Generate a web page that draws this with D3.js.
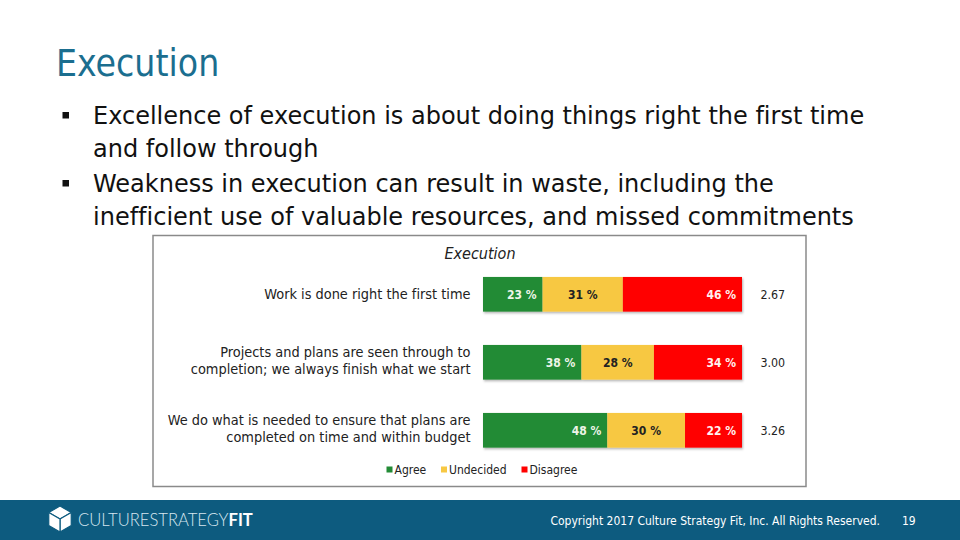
<!DOCTYPE html>
<html>
<head>
<meta charset="utf-8">
<script src="https://cdn.jsdelivr.net/npm/d3@7"></script>
<style>
html,body{margin:0;padding:0;background:#fff;}
svg{display:block;}
text{font-variant-ligatures:none;font-feature-settings:"liga" 0, "clig" 0;}
</style>
</head>
<body>
<svg id="c" width="960" height="540"></svg>
<script>
// ---------- data ----------
const slideTitle = "Execution";
const bullets = [
  ["Excellence of execution is about doing things right the first time", "and follow through"],
  ["Weakness in execution can result in waste, including the", "inefficient use of valuable resources, and missed commitments"]
];
const chartTitle = "Execution";
const categories = [
  "Work is done right the first time",
  "Projects and plans are seen through to completion; we always finish what we start",
  "We do what is needed to ensure that plans are completed on time and within budget"
];
const categoryLines = [
  ["Work is done right the first time"],
  ["Projects and plans are seen through to", "completion; we always finish what we start"],
  ["We do what is needed to ensure that plans are", "completed on time and within budget"]
];
const seriesNames = ["Agree", "Undecided", "Disagree"];
const agree = [23, 38, 48];
const undecided = [31, 28, 30];
const disagree = [46, 34, 22];
const meanScores = [2.67, 3.00, 3.26];
const footerBrand = ["CULTURESTRATEGY", "FIT"];
const footerText = "Copyright 2017 Culture Strategy Fit, Inc. All Rights Reserved.";
const pageNumber = "19";

// ---------- styles ----------
const colors = {Agree: "#238b36", Undecided: "#f7c843", Disagree: "#ff0000"};
const labelColors = {Agree: "#eef5e8", Undecided: "#222", Disagree: "#fff2f0"};
const slideFont = "'DejaVu Sans', sans-serif";
const condFont = "'DejaVu Sans Condensed', 'DejaVu Sans', sans-serif";

const svg = d3.select("#c");

const defs = svg.append("defs");
const f = defs.append("filter").attr("id", "sh").attr("x", "-5%").attr("y", "-20%").attr("width", "110%").attr("height", "150%");
f.append("feDropShadow").attr("dx", 1).attr("dy", 1.5).attr("stdDeviation", 0.8).attr("flood-color", "#000").attr("flood-opacity", 0.3);

// ---------- slide title & bullets ----------
svg.append("text").attr("x", 56).attr("y", 76)
  .attr("font-family", condFont).attr("font-size", 37).attr("fill", "#1b6e8f")
  .text(slideTitle);

const bulletBase = [[124, 157], [192, 225]];
bullets.forEach((lines, i) => {
  svg.append("rect").attr("x", 62.5).attr("y", bulletBase[i][0] - 12).attr("width", 6.5).attr("height", 6.5).attr("fill", "#111");
  lines.forEach((ln, j) => {
    svg.append("text").attr("x", 93).attr("y", bulletBase[i][j])
      .attr("font-family", slideFont).attr("font-size", 24).attr("fill", "#111")
      .text(ln);
  });
});

// ---------- chart ----------
svg.append("rect").attr("x", 153).attr("y", 235.5).attr("width", 653).attr("height", 251)
  .attr("fill", "#fff").attr("stroke", "#8a8a8a").attr("stroke-width", 1.5);

svg.append("text").attr("x", 480).attr("y", 259).attr("text-anchor", "middle")
  .attr("font-family", condFont).attr("font-style", "italic").attr("font-size", 16).attr("fill", "#222")
  .text(chartTitle);

const x = d3.scaleLinear().domain([0, 100]).range([483, 742]);
const y = d3.scaleBand().domain(categories).range([260.3, 464.3]).paddingInner(0.49).paddingOuter(0.245);

const rows = categories.map((c, i) => {
  const vals = [agree[i], undecided[i], disagree[i]];
  let acc = 0;
  return vals.map((v, k) => {
    const seg = {cat: c, series: seriesNames[k], v: v, x0: acc, x1: acc + v};
    acc += v;
    return seg;
  });
});

const g = svg.append("g");
rows.forEach(segs => {
  const rg = g.append("g").attr("filter", "url(#sh)");
  rg.selectAll("rect").data(segs).join("rect")
    .attr("x", d => x(d.x0)).attr("width", d => x(d.x1) - x(d.x0))
    .attr("y", d => y(d.cat)).attr("height", y.bandwidth())
    .attr("fill", d => colors[d.series]);
  g.selectAll(null).data(segs).join("text")
    .attr("x", d => d.series === "Undecided" ? (x(d.x0) + x(d.x1)) / 2 : x(d.x1) - 6)
    .attr("y", d => y(d.cat) + y.bandwidth() / 2 + 4.5)
    .attr("text-anchor", d => d.series === "Undecided" ? "middle" : "end")
    .attr("font-family", condFont).attr("font-weight", "bold").attr("font-size", 12)
    .attr("fill", d => labelColors[d.series])
    .text(d => d.v + " %");
});

// category labels and mean scores
categories.forEach((c, i) => {
  const lines = categoryLines[i];
  const cy = y(c) + y.bandwidth() / 2;
  const lh = 17;
  const off = lines.length > 1 ? 3 : 4.5;
  lines.forEach((ln, j) => {
    svg.append("text").attr("x", 470.5)
      .attr("y", cy + off + (j - (lines.length - 1) / 2) * lh)
      .attr("text-anchor", "end")
      .attr("font-family", condFont).attr("font-size", 14.4).attr("fill", "#222")
      .text(ln);
  });
  svg.append("text").attr("x", 760.5).attr("y", cy + 4.5)
    .attr("font-family", condFont).attr("font-size", 12.3).attr("fill", "#222")
    .text(d3.format(".2f")(meanScores[i]));
});

// legend
const legendX = [386.5, 441, 521.5];
seriesNames.forEach((s, k) => {
  svg.append("rect").attr("x", legendX[k]).attr("y", 466.5).attr("width", 6).attr("height", 6).attr("fill", colors[s]);
  svg.append("text").attr("x", legendX[k] + 8).attr("y", 474)
    .attr("font-family", condFont).attr("font-size", 12).attr("fill", "#222").text(s);
});

// ---------- footer ----------
svg.append("rect").attr("x", 0).attr("y", 500).attr("width", 960).attr("height", 40).attr("fill", "#0d5b7f");

const cx = 60, cyL = 519, r = 13;
const pt = a => [cx + r * Math.cos(a * Math.PI / 180), cyL + r * Math.sin(a * Math.PI / 180)];
const P = [-90, -30, 30, 90, 150, 210].map(pt);
const C = [cx, cyL];
const faces = [[P[5], P[0], P[1], C], [C, P[1], P[2], P[3]], [P[5], C, P[3], P[4]]];
svg.append("g").selectAll("path").data(faces).join("path")
  .attr("d", d => "M" + d.map(p => p.join(",")).join("L") + "Z")
  .attr("fill", "#fff").attr("stroke", "#0d5b7f").attr("stroke-width", 1.2).attr("stroke-linejoin", "round");

const brand = svg.append("text").attr("x", 78).attr("y", 526)
  .attr("font-family", "Lato, sans-serif").attr("font-size", 16.6).attr("fill", "#d6e6ef");
brand.append("tspan").attr("font-weight", 300).text(footerBrand[0]);
brand.append("tspan").attr("font-weight", 700).attr("fill", "#fff").text(footerBrand[1]);

svg.append("text").attr("x", 880).attr("y", 524.5).attr("text-anchor", "end")
  .attr("font-family", condFont).attr("font-size", 12).attr("fill", "#fff").text(footerText);
svg.append("text").attr("x", 902).attr("y", 524.5)
  .attr("font-family", condFont).attr("font-size", 12).attr("fill", "#fff").text(pageNumber);
</script>
</body>
</html>
